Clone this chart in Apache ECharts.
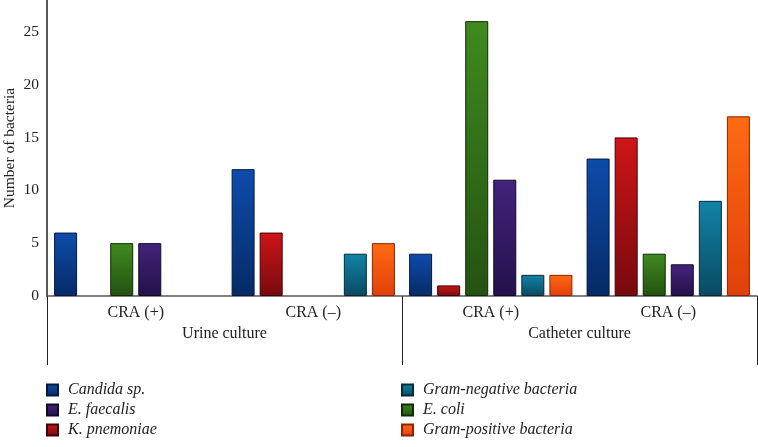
<!DOCTYPE html>
<html>
<head>
<meta charset="utf-8">
<script src="https://cdn.jsdelivr.net/npm/echarts@6/dist/echarts.min.js"></script>
<style>html,body{margin:0;padding:0;background:#fff;}#c{width:758px;height:447px;}</style>
</head>
<body>
<div id="c"></div>
<script>
const subCategories = ['CRA (+)', 'CRA (–)', 'CRA (+)', 'CRA (–)'];
const groupCategories = ['Urine culture', 'Catheter culture'];
const yTicks = [0, 5, 10, 15, 20, 25];
const seriesNames = ['Candida sp.', 'K. pnemoniae', 'E. coli', 'E. faecalis', 'Gram-negative bacteria', 'Gram-positive bacteria'];
const candida = [6, 12, 4, 13];
const kpnemoniae = [0, 6, 1, 15];
const ecoli = [5, 0, 26, 4];
const efaecalis = [5, 0, 11, 3];
const gramNeg = [0, 4, 2, 9];
const gramPos = [0, 5, 2, 17];
const legendCol1 = ['Candida sp.', 'E. faecalis', 'K. pnemoniae'];
const legendCol2 = ['Gram-negative bacteria', 'E. coli', 'Gram-positive bacteria'];

const values = [candida, kpnemoniae, ecoli, efaecalis, gramNeg, gramPos];
// [top, bottom, border]
const palette = [
  ['#0d4cab', '#072a66', '#041a3e'],
  ['#cf1518', '#760a0e', '#3e0406'],
  ['#3f8a1e', '#245212', '#102a06'],
  ['#43237c', '#24114a', '#12082a'],
  ['#1283a6', '#0a4a62', '#042a38'],
  ['#ff6a12', '#e0400a', '#8a2404']
];
function grad(p) {
  return new echarts.graphic.LinearGradient(0, 0, 0, 1, [
    {offset: 0, color: p[0]}, {offset: 1, color: p[1]}
  ]);
}

const chart = echarts.init(document.getElementById('c'));
const font = '"Liberation Serif", "DejaVu Serif", serif';
const series = seriesNames.map((n, i) => ({
  name: n,
  type: 'bar',
  xAxisIndex: 0,
  yAxisIndex: 0,
  data: values[i].map((v) => (v === 0 ? '-' : v)),
  barWidth: 23,
  barGap: '22%',
  itemStyle: {color: grad(palette[i]), borderColor: palette[i][2], borderWidth: 1},
  emphasis: {disabled: true}
}));
series.push({type: 'bar', xAxisIndex: 1, yAxisIndex: 0, data: [], silent: true});

const legendText = {fontFamily: font, fontStyle: 'italic', fontSize: 16, color: '#222', lineHeight: 12, padding: [0, 0, 0, 5]};

chart.setOption({
  animation: false,
  textStyle: {fontFamily: font},
  grid: {left: 47, right: 1, top: 0, bottom: 151, containLabel: false, outerBoundsMode: 'none'},
  legend: [
    {
      data: legendCol1.map((n) => ({name: n})),
      orient: 'vertical', left: 46, top: 382, itemWidth: 11, itemHeight: 11, itemGap: 4,
      icon: 'rect', selectedMode: false, padding: 0, textStyle: legendText
    },
    {
      data: legendCol2.map((n) => ({name: n})),
      orient: 'vertical', left: 401, top: 382, itemWidth: 11, itemHeight: 11, itemGap: 4,
      icon: 'rect', selectedMode: false, padding: 0, textStyle: legendText
    }
  ],
  xAxis: [
    {
      type: 'category', data: subCategories, position: 'bottom',
      axisLine: {show: false}, axisTick: {show: false},
      axisLabel: {fontFamily: font, fontSize: 16, color: '#222', margin: 9}
    },
    {
      type: 'category', data: groupCategories, position: 'bottom',
      axisLine: {show: true, lineStyle: {color: '#555', width: 1.5}},
      axisTick: {show: true, length: 69, lineStyle: {color: '#222', width: 1}},
      axisLabel: {fontFamily: font, fontSize: 16, color: '#222', margin: 30}
    }
  ],
  yAxis: {
    type: 'value', min: 0, max: 28, interval: 5,
    name: 'Number of bacteria', nameLocation: 'middle', nameGap: 29, nameMoveOverlap: false,
    nameTextStyle: {fontFamily: font, fontSize: 15.5, color: '#222'},
    axisLine: {show: true, lineStyle: {color: '#222', width: 1.5}},
    axisTick: {show: false},
    splitLine: {show: false},
    axisLabel: {fontFamily: font, fontSize: 15.5, color: '#222', margin: 8, showMaxLabel: false,
      formatter: (v) => (yTicks.indexOf(v) >= 0 ? String(v) : '')}
  },
  series: series
});
</script>
</body>
</html>
